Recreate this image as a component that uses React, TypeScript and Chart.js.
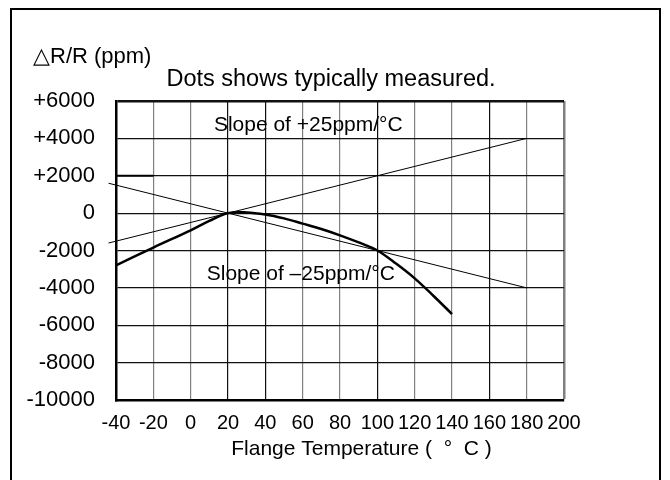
import React, { useEffect, useRef } from "react";
import { Chart, registerables } from "chart.js";
Chart.register(...registerables);

const FONT = "'Liberation Sans', Arial, sans-serif";

const xTickValues = [-40, -20, 0, 20, 40, 60, 80, 100, 120, 140, 160, 180, 200];
const yTickValues = [6000, 4000, 2000, 0, -2000, -4000, -6000, -8000, -10000];
const yTickLabels = ["+6000", "+4000", "+2000", "0", "-2000", "-4000", "-6000", "-8000", "-10000"];

const measuredTemps = [-40, -20, 0, 10, 20, 30, 40, 50, 60, 70, 80, 90, 100, 110, 120, 130, 140];
const measuredDeltaR = [-2790, -1840, -920, -420, 0, 40, -70, -280, -560, -850, -1190, -1570, -2000, -2700, -3490, -4420, -5400];

const slopeTemps = [-44, 180];
const plusSlopeValues = [-1600, 4000];
const minusSlopeValues = [1600, -4000];

const markTemps = [-40, -20];
const markValues = [2000, 2000];

const unitLabel = "△R/R (ppm)";
const noteLabel = "Dots shows typically measured.";
const plusSlopeLabel = "Slope of +25ppm/°C";
const minusSlopeLabel = "Slope of –25ppm/°C";
const xAxisLabel = "Flange Temperature (  °  C )";

const darkVerticals = [20, 40, 100, 160];

const textPlugin = {
  id: "texts",
  afterDraw(chart: any) {
    const { ctx } = chart;
    const x = chart.scales.x;
    const y = chart.scales.y;
    ctx.save();
    ctx.fillStyle = "#000";
    ctx.textBaseline = "alphabetic";
    ctx.textAlign = "left";
    ctx.font = `22px ${FONT}`;
    ctx.fillText(unitLabel, 33, 63);
    ctx.textAlign = "center";
    ctx.font = `23.5px ${FONT}`;
    ctx.fillText(noteLabel, 331, 86);
    ctx.font = `21px ${FONT}`;
    ctx.fillText(plusSlopeLabel, x.getPixelForValue(63), y.getPixelForValue(4390));
    ctx.fillText(minusSlopeLabel, x.getPixelForValue(59), y.getPixelForValue(-3590));
    ctx.fillText(xAxisLabel, x.getPixelForValue(91.5), 455);
    ctx.restore();
  },
};

export default function App() {
  const ref = useRef<HTMLCanvasElement | null>(null);
  useEffect(() => {
    if (!ref.current) return;
    const pts = (xs: number[], ys: number[]) => xs.map((v, i) => ({ x: v, y: ys[i] }));
    const chart = new Chart(ref.current, {
      type: "line",
      data: {
        datasets: [
          {
            data: pts(measuredTemps, measuredDeltaR),
            borderColor: "#000",
            borderWidth: 2.5,
            pointRadius: 0,
            tension: 0.35,
          },
          {
            data: pts(slopeTemps, plusSlopeValues),
            borderColor: "#000",
            borderWidth: 1,
            pointRadius: 0,
            clip: false as any,
          },
          {
            data: pts(slopeTemps, minusSlopeValues),
            borderColor: "#000",
            borderWidth: 1,
            pointRadius: 0,
            clip: false as any,
          },
          {
            data: pts(markTemps, markValues),
            borderColor: "#000",
            borderWidth: 2,
            pointRadius: 0,
          },
        ],
      },
      options: {
        responsive: false,
        animation: false,
        devicePixelRatio: 1,
        layout: { padding: { left: 0, right: 106, top: 101, bottom: 0 } },
        plugins: { legend: { display: false }, tooltip: { enabled: false }, title: { display: false } },
        scales: {
          x: {
            type: "linear",
            min: -40,
            max: 200,
            afterFit: (s: any) => {
              s.height = 80;
            },
            afterBuildTicks: (s: any) => {
              s.ticks = xTickValues.map((v) => ({ value: v }));
            },
            ticks: {
              color: "#000",
              font: { family: FONT, size: 20 },
              padding: 11,
              maxRotation: 0,
              autoSkip: false,
              callback: (v: any) => String(v),
            },
            grid: {
              drawTicks: false,
              color: (c: any) => (c.tick && darkVerticals.includes(c.tick.value) ? "#111" : "#808080"),
              lineWidth: (c: any) => (c.tick && c.tick.value === 200 ? 2.5 : 1.2),
            },
            border: { display: true, color: "#000", width: 2.5 },
          },
          y: {
            type: "linear",
            min: -10000,
            max: 6000,
            afterFit: (s: any) => {
              s.width = 116;
            },
            afterBuildTicks: (s: any) => {
              s.ticks = yTickValues.map((v) => ({ value: v }));
            },
            ticks: {
              color: "#000",
              font: { family: FONT, size: 22 },
              padding: 21,
              autoSkip: false,
              callback: (v: any) => {
                const i = yTickValues.indexOf(Number(v));
                return i >= 0 ? yTickLabels[i] : "";
              },
            },
            grid: {
              drawTicks: false,
              color: "#111",
              lineWidth: (c: any) => (c.tick && c.tick.value === 6000 ? 2.5 : 1.2),
            },
            border: { display: true, color: "#000", width: 2.5 },
          },
        },
      },
      plugins: [textPlugin],
    });
    return () => chart.destroy();
  }, []);
  return (
    <div style={{ position: "absolute", left: 0, top: 0, width: 670, height: 480, overflow: "hidden", background: "#fff" }}>
      <div
        style={{
          position: "absolute",
          left: 10,
          top: 8,
          width: 647,
          height: 520,
          borderLeft: "2px solid #000",
          borderTop: "2px solid #000",
          borderRight: "2px solid #000",
        }}
      />
      <canvas ref={ref} width={670} height={480} style={{ position: "absolute", left: 0, top: 0, width: 670, height: 480 }} />
    </div>
  );
}
